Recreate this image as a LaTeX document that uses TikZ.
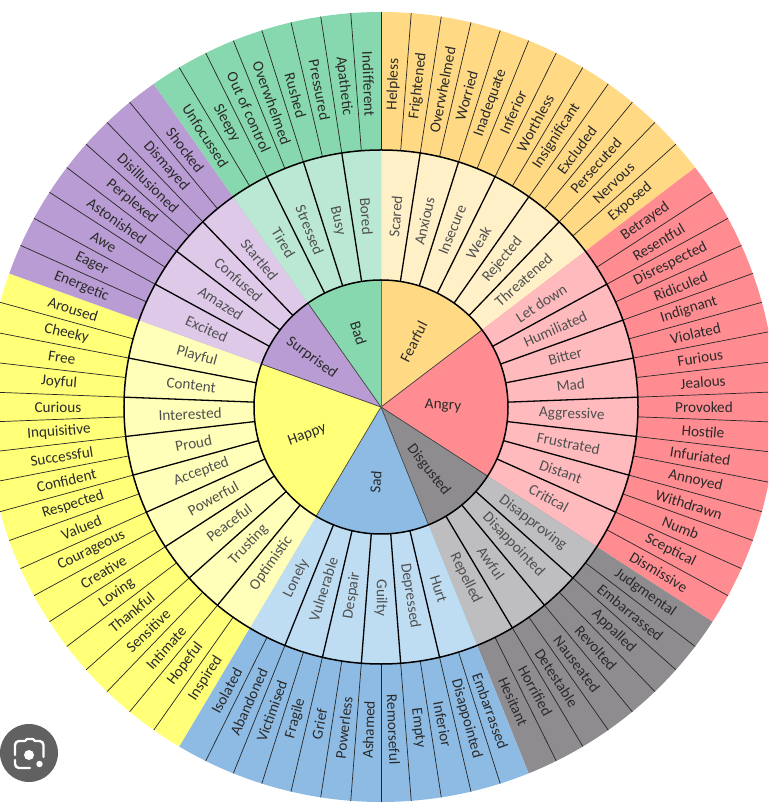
\documentclass[tikz,border=0pt]{standalone}
\usepackage{fontspec}
\setmainfont{Carlito}
\definecolor{fearO}{HTML}{FFD983}\definecolor{fearM}{HTML}{FFF0C8}
\definecolor{angrO}{HTML}{FF8C90}\definecolor{angrM}{HTML}{FFBABE}
\definecolor{disgO}{HTML}{8F8C8F}\definecolor{disgM}{HTML}{BEBDBF}
\definecolor{sadO}{HTML}{8EBBE3}\definecolor{sadM}{HTML}{BEDCF2}
\definecolor{hapO}{HTML}{FFFF78}\definecolor{hapM}{HTML}{FFFFBA}
\definecolor{surO}{HTML}{B99CD3}\definecolor{surM}{HTML}{DEC9E9}
\definecolor{badO}{HTML}{87D8AE}\definecolor{badM}{HTML}{BAE8D3}
\definecolor{inkO}{HTML}{2A2A2A}\definecolor{inkM}{HTML}{505050}
\tikzset{
  x=1pt,y=1pt,
  outerlabel/.style={font=\fontsize{15.2}{15}\selectfont,text=inkO,inner sep=0pt},
  midlabel/.style={font=\fontsize{15.2}{15}\selectfont,text=inkM,inner sep=0pt},
  corelabel/.style={font=\fontsize{15.2}{15}\selectfont,text=inkO,inner sep=0pt},
  thinspoke/.style={draw=black!85,line width=0.7pt},
  boldspoke/.style={draw=black,line width=1.3pt},
  ringline/.style={draw=black,line width=1.5pt},
  coreedge/.style={draw=black!75,line width=0.7pt},
  lensline/.style={draw=white,line width=2.4pt,line cap=round,line join=round},
}
\newcommand{\stp}{4.390244}
\newcommand{\Ro}{395}\newcommand{\Rm}{257}\newcommand{\Ri}{127}
% #1 first outer-wedge index, #2 wedges, #3 tag, #4 outer labels, #5 mid labels
\newcommand{\wsector}[5]{%
  \pgfmathsetmacro{\aS}{90-#1*\stp}
  \pgfmathsetmacro{\aE}{90-(#1+#2)*\stp}
  \fill[#3O] (0,0) -- (\aS:\Ro) arc[start angle=\aS,end angle=\aE,radius=\Ro] -- cycle;
  \fill[#3M] (0,0) -- (\aS:\Rm) arc[start angle=\aS,end angle=\aE,radius=\Rm] -- cycle;
  \fill[#3O] (0,0) -- (\aS:\Ri) arc[start angle=\aS,end angle=\aE,radius=\Ri] -- cycle;
  \draw[coreedge] (0,0) -- (\aS:\Ri);
  \pgfmathtruncatemacro{\last}{#2-1}
  \foreach \k in {1,...,\last}{
    \pgfmathsetmacro{\a}{90-(#1+\k)*\stp}
    \draw[thinspoke] (\a:\Rm) -- (\a:\Ro);
    \ifodd\k\else\draw[boldspoke] (\a:\Ri) -- (\a:\Rm);\fi
  }
  \foreach \t [count=\c] in {#4}{
    \pgfmathsetmacro{\a}{90-(#1+\c-0.5)*\stp}
    \pgfmathsetmacro{\r}{\a>-90.5?\a:\a+180}
    \node[outerlabel,rotate=\r] (o#3\c) at (\a:323) {\t};
  }
  \foreach \t [count=\c] in {#5}{
    \pgfmathsetmacro{\a}{90-(#1+2*\c-1)*\stp}
    \pgfmathsetmacro{\r}{\a>-90.5?\a:\a+180}
    \node[midlabel,rotate=\r] (m#3\c) at (\a:191) {\t};
  }
}
\begin{document}
\begin{tikzpicture}
\useasboundingbox (-381,-395) rectangle (387,407);
\clip (-381,-395) rectangle (387,407);
\fill[white] (-381,-395) rectangle (387,407);
\wsector{0}{12}{fear}{Helpless,Frightened,Overwhelmed,Worried,Inadequate,Inferior,Worthless,Insignificant,Excluded,Persecuted,Nervous,Exposed}{Scared,Anxious,Insecure,Weak,Rejected,Threatened}
\wsector{12}{16}{angr}{Betrayed,Resentful,Disrespected,Ridiculed,Indignant,Violated,Furious,Jealous,Provoked,Hostile,Infuriated,Annoyed,Withdrawn,Numb,Sceptical,Dismissive}{Let down,Humiliated,Bitter,Mad,Aggressive,Frustrated,Distant,Critical}
\wsector{28}{8}{disg}{Judgmental,Embarrassed,Appalled,Revolted,Nauseated,Detestable,Horrified,Hesitant}{Disapproving,Disappointed,Awful,Repelled}
\wsector{36}{12}{sad}{Embarrassed,Disappointed,Inferior,Empty,Remorseful,Ashamed,Powerless,Grief,Fragile,Victimised,Abandoned,Isolated}{Hurt,Depressed,Guilty,Despair,Vulnerable,Lonely}
\wsector{48}{18}{hap}{Inspired,Hopeful,Intimate,Sensitive,Thankful,Loving,Creative,Courageous,Valued,Respected,Confident,Successful,Inquisitive,Curious,Joyful,Free,Cheeky,Aroused}{Optimistic,Trusting,Peaceful,Powerful,Accepted,Proud,Interested,Content,Playful}
\wsector{66}{8}{sur}{Energetic,Eager,Awe,Astonished,Perplexed,Disillusioned,Dismayed,Shocked}{Excited,Amazed,Confused,Startled}
\wsector{74}{8}{bad}{Unfocussed,Sleepy,Out of control,Overwhelmed,Rushed,Pressured,Apathetic,Indifferent}{Tired,Stressed,Busy,Bored}
\draw[coreedge,draw=black!80!badO] (90:\Rm) -- (90:\Ro);
\draw[ringline] (0,0) circle[radius=\Rm];
\draw[ringline] (0,0) circle[radius=\Ri];
\node[corelabel,rotate=63.5] (cfear) at (63.5:73) {Fearful};
\node[corelabel,rotate=-3] (cangr) at (1:62) {Angry};
\node[corelabel,rotate=-52] (cdisg) at (-53:79) {Disgusted};
\node[corelabel,rotate=85.6] (csad) at (-94:75) {Sad};
\node[corelabel,rotate=20] (chap) at (200.7:79) {Happy};
\node[corelabel,rotate=-36] (csur) at (144.6:85) {Surprised};
\node[corelabel,rotate=-72] (cbad) at (107:77) {Bad};
% lens badge
\fill[black!62] (-352,-346) circle[radius=29];
\draw[lensline] (-356,-334) -- (-362,-334) arc[start angle=90,end angle=180,radius=4] -- (-366,-348);
\draw[lensline] (-366,-353) -- (-366,-357) arc[start angle=180,end angle=270,radius=4] -- (-351,-361);
\draw[lensline] (-356,-334) -- (-354,-332) -- (-348,-332) -- (-346,-334) -- (-341.5,-334) arc[start angle=90,end angle=0,radius=4] -- (-337.5,-350);
\fill[white] (-352,-348) circle[radius=5];
\fill[white] (-341.5,-357) circle[radius=3.2];
\end{tikzpicture}
\end{document}
